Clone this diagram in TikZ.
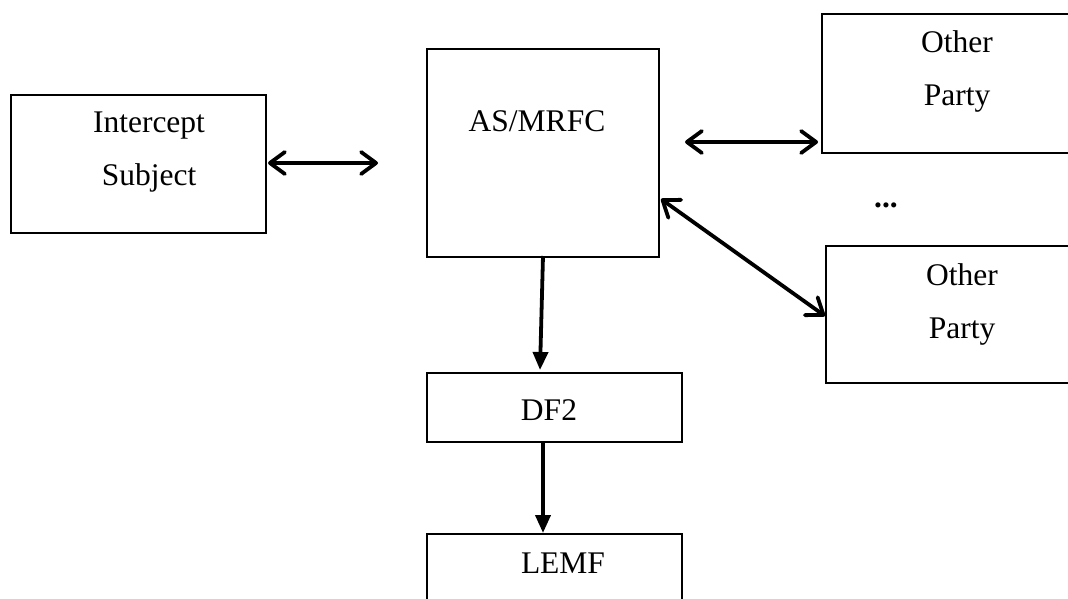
\documentclass[tikz,border=0pt]{standalone}
\usepackage{fontspec}
\setmainfont{Liberation Serif}
\usetikzlibrary{arrows.meta}
\begin{document}
\begin{tikzpicture}[x=1pt,y=-1pt,
  box/.style={draw,line width=1.8pt,inner sep=0pt,outer sep=0pt},
  lbl/.style={font=\fontsize{31.5}{53}\selectfont,align=center,inner sep=0pt},
  dbl/.style={line width=3.8pt,line cap=round,{Straight Barb[length=15pt,width=22pt,line cap=round,line join=round]}-{Straight Barb[length=15pt,width=22pt,line cap=round,line join=round]}},
  one/.style={line width=3.8pt,-{Triangle[length=18pt,width=15pt]}}]
\useasboundingbox (0,0) rectangle (1068,599);
\clip (0,0) rectangle (1068,599);
% boxes
\node[box,minimum width=255pt,minimum height=138pt] (is) at (138.5,164) {};
\node[box,minimum width=232pt,minimum height=208pt] (as) at (543,153) {};
\node[box,minimum width=270pt,minimum height=139pt] (op1) at (957,83.5) {};
\node[box,minimum width=272pt,minimum height=137pt] (op2) at (962,314.5) {};
\node[box,minimum width=255pt,minimum height=69pt] (df) at (554.5,407.5) {};
\node[box,minimum width=255pt,minimum height=90pt] (lemf) at (554.5,579) {};
% texts
\node[lbl] (istxt) at (149,152) {Intercept\\Subject};
\node[lbl] (astxt) at (537,121) {AS/MRFC};
\node[lbl] (op1txt) at (957,71) {Other\\Party};
\node[lbl] (op2txt) at (962,304) {Other\\Party};
\node[lbl] (dftxt) at (549,410) {DF2};
\node[lbl] (lemftxt) at (563,563) {LEMF};
\node[lbl,font=\fontsize{31.5}{36}\selectfont\bfseries] (dots) at (886,205) {...};
% connector ends
\coordinate (a1s) at (268,163);
\coordinate (a1e) at (378,163);
\coordinate (a2s) at (685,142);
\coordinate (a2e) at (818,142);
\coordinate (a3s) at (661,199);
\coordinate (a3e) at (825,316);
\coordinate (a4s) at (543,256);
\coordinate (a4e) at (540,370);
\coordinate (a5s) at (543,442);
\coordinate (a5e) at (543,533);
% connectors
\draw[dbl] (a1s) -- (a1e);
\draw[dbl] (a2s) -- (a2e);
\draw[dbl] (a3s) -- (a3e);
\draw[one] (a4s) -- (a4e);
\draw[one] (a5s) -- (a5e);
\end{tikzpicture}
\end{document}
